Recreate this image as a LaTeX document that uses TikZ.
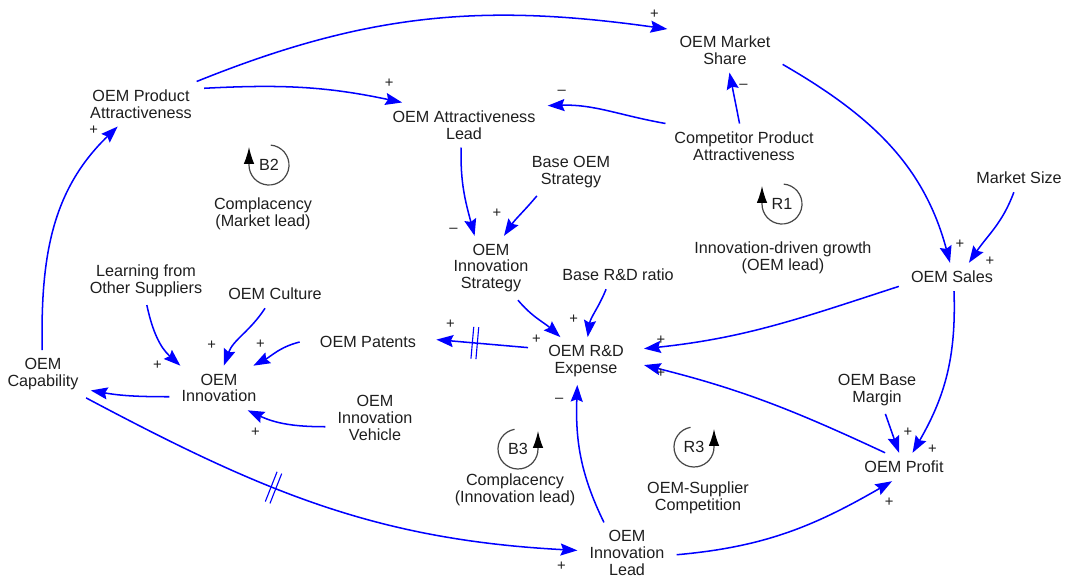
\documentclass[tikz,border=0pt]{standalone}
\usepackage{fontspec}
\setmainfont{Liberation Sans}
\usetikzlibrary{arrows.meta,decorations.markings}
\definecolor{linkblue}{RGB}{0,0,255}
\definecolor{loopgray}{RGB}{70,70,70}
\definecolor{textdark}{RGB}{30,30,30}

\begin{document}
\begin{tikzpicture}[x=0.25mm,y=0.25mm,font=\fontsize{11.5}{11.8}\selectfont,
 var/.style={align=center,inner xsep=3mm,inner ysep=2mm,text=textdark},
 link/.style={-{Stealth[length=4.2mm,width=3mm,inset=0.6mm]},draw=linkblue,line width=0.38mm},
 sgn/.style={font=\fontsize{10.5}{10.5}\selectfont,text=textdark,inner sep=0pt},
 delaymark/.style={postaction={decorate},decoration={markings,mark=at position #1 with {\draw[-,draw=linkblue,line width=0.28mm] (-2.5,-16) -- (-2.5,16) (2.5,-16) -- (2.5,16);}}},
 loopicon/.style={-{Latex[length=4.2mm,width=2.6mm,color=black]},draw=loopgray,line width=0.3mm}]
\useasboundingbox (0,0) rectangle (1065,-578);
\node[var] (pa) at (141,-104) {OEM Product\\Attractiveness};
\node[var] (ms) at (725,-50) {OEM Market\\Share};
\node[var] (al) at (464,-125) {OEM Attractiveness\\Lead};
\node[var] (cpa) at (744,-146) {Competitor Product\\Attractiveness};
\node[var] (bos) at (571,-172) {Base OEM\\Strategy};
\node[var] (msz) at (1019,-178) {Market Size};
\node[var] (is) at (491,-268) {OEM\\Innovation\\Strategy};
\node[var] (brd) at (618,-275) {Base R\&D ratio};
\node[var] (sales) at (952,-277) {OEM Sales};
\node[var] (lfs) at (146,-281) {Learning from\\Other Suppliers};
\node[var] (cult) at (275,-294) {OEM Culture};
\node[var,inner xsep=5mm] (pat) at (368,-342) {OEM Patents};
\node[var,inner xsep=5mm] (rd) at (586,-361) {OEM R\&D\\Expense};
\node[var] (cap) at (43,-374) {OEM\\Capability};
\node[var] (inn) at (219,-388) {OEM\\Innovation};
\node[var] (veh) at (375,-418) {OEM\\Innovation\\Vehicle};
\node[var] (bm) at (877,-390) {OEM Base\\Margin};
\node[var] (prof) at (904,-467) {OEM Profit};
\node[var] (il) at (627,-553) {OEM\\Innovation\\Lead};
\node[var] (b2txt) at (263,-214) {Complacency\\(Market lead)};
\node[var] (r1txt) at (783,-258) {Innovation-driven growth\\(OEM lead)};
\node[var] (b3txt) at (515,-490) {Complacency\\(Innovation lead)};
\node[var] (r3txt) at (698,-498) {OEM-Supplier\\Competition};
\node[text=textdark] (b2) at (269,-165) {B2};
\node[text=textdark] (r1) at (782,-204) {R1};
\node[text=textdark] (b3) at (518,-449) {B3};
\node[text=textdark] (r3) at (694,-447) {R3};
\draw[loopicon] ([shift={(85:20)}]b2.center) arc (85:-180:20) -- ++(0,18);
\draw[loopicon] ([shift={(85:20)}]r1.center) arc (85:-180:20) -- ++(0,18);
\draw[loopicon] ([shift={(100:20)}]b3.center) arc (100:360:20) -- ++(0,18);
\draw[loopicon] ([shift={(100:20)}]r3.center) arc (100:360:20) -- ++(0,18);
\draw[link] (pa) to[out=22,in=172] node[sgn,pos=1,shift={(-13,15)}]{+} (ms.160);
\draw[link] (pa.14) to[out=3,in=168] node[sgn,pos=1,shift={(-13,19)}]{+} (al.160);
\draw[link] (cpa.164) to[out=170,in=2] node[sgn,pos=1,shift={(14,13)}]{--} (al.13);
\draw[link] (cpa) -- node[sgn,pos=1,shift={(14,-14)}]{--} (ms);
\draw[link] (ms.-14) to[out=-30,in=105] node[sgn,pos=1,shift={(10,19)}]{+} (sales.98);
\draw[link] (msz) to[out=-110,in=56] node[sgn,pos=1,shift={(21,2)}]{+} (sales.40);
\draw[link] (al.-97) to[out=-92,in=105] node[sgn,pos=1,shift={(-21,5)}]{--} (is.117);
\draw[link] (bos.-145) to[out=-130,in=56] node[sgn,pos=1,shift={(-7,23)}]{+} (is.68);
\draw[link] (is) to[out=-50,in=138] node[sgn,pos=1,shift={(-24,-2)}]{+} (rd.137);
\draw[link] (brd.-130) to[out=-112,in=82] node[sgn,pos=1,shift={(-14,18)}]{+} (rd.86);
\draw[link] (sales.-170) to[out=-162,in=6] node[sgn,pos=1,shift={(17,8)}]{+} (rd.12);
\draw[link] (sales.-82) to[out=-88,in=60] node[sgn,pos=1,shift={(20,4)}]{+} (prof.59);
\draw[link] (bm) -- node[sgn,pos=1,shift={(9,21)}]{+} (prof);
\draw[link] (prof.143) to[out=155,in=-14] node[sgn,pos=1,shift={(17,-8)}]{+} (rd.-4);
\draw[link,delaymark=0.58] (rd.167) -- node[sgn,pos=1,shift={(14,15)}]{+} (pat.2);
\draw[link] (pat.180) to[out=-166,in=28] node[sgn,pos=1,shift={(7,21)}]{+} (inn.33);
\draw[link] (cult.-125) to[out=-123,in=70] node[sgn,pos=1,shift={(-12,20)}]{+} (inn.78);
\draw[link] (lfs.-88) to[out=-78,in=138] node[sgn,pos=1,shift={(-23,0)}]{+} (inn.150);
\draw[link] (veh.-170) to[out=180,in=-25] node[sgn,pos=1,shift={(8,-22)}]{+} (inn.-38);
\draw[link] (inn.-170) to[out=180,in=-10] (cap.-19);
\draw[link] (cap.92) to[out=91,in=-136] node[sgn,pos=1,shift={(-24,-4)}]{+} (pa.-136);
\draw[link,delaymark=0.4] (cap.-29) to[out=-28,in=177] node[sgn,pos=1,shift={(-16,-16)}]{+} (il.177);
\draw[link] (il.127) to[out=116,in=-92] node[sgn,pos=1,shift={(-18,-15)}]{--} (rd.-110);
\draw[link] (il.-2) to[out=5,in=-150] node[sgn,pos=1,shift={(-3,-21)}]{+} (prof.-130);
\end{tikzpicture}
\end{document}
